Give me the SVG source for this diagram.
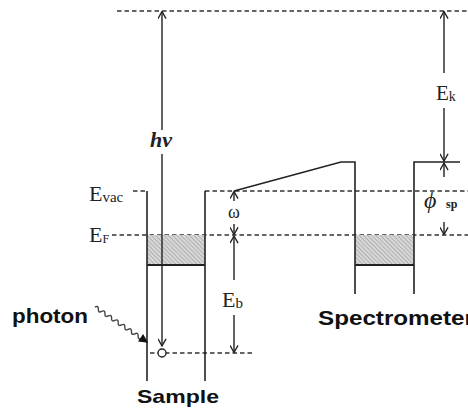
<svg xmlns="http://www.w3.org/2000/svg" width="468" height="410" viewBox="0 0 468 410">
<style>
.ln{stroke:#222;stroke-width:1.6;fill:none}
.ds{stroke:#333;stroke-width:1.3;fill:none;stroke-dasharray:4.5 3}
.ar{stroke:#222;stroke-width:1.4;fill:none;marker-end:url(#v)}
.sf{font-family:"Liberation Serif","Times New Roman",serif;fill:#222}
.ss{font-family:"Liberation Sans",Arial,sans-serif;font-weight:bold;fill:#111}
</style>
<defs>
<marker id="v" viewBox="0 0 10 10" refX="9" refY="5" markerWidth="9" markerHeight="9" markerUnits="userSpaceOnUse" orient="auto">
<path d="M1,0.5 L9,5 L1,9.5" fill="none" stroke="#222" stroke-width="1.5"/>
</marker>
<pattern id="hatch" width="3" height="3" patternUnits="userSpaceOnUse" patternTransform="rotate(-45)">
<rect width="3" height="3" fill="#d8d8d8"/>
<line x1="0" y1="0" x2="0" y2="3" stroke="#888" stroke-width="1"/>
</pattern>
</defs>
<rect width="468" height="410" fill="#fff"/>

<g id="levels">
<line class="ds" x1="117" y1="11" x2="468" y2="11"/>
<path class="ds" d="M133,191 H147"/>
<line class="ds" x1="205" y1="191" x2="468" y2="191"/>
<line class="ds" x1="112" y1="235" x2="468" y2="235"/>
<line class="ds" x1="150" y1="353" x2="254" y2="353"/>
</g>

<g id="sample">
<rect x="147" y="235" width="58" height="30" fill="url(#hatch)"/>
<line class="ln" x1="147" y1="191" x2="147" y2="381"/>
<line class="ln" x1="205" y1="191" x2="205" y2="381"/>
<line x1="147" y1="265" x2="205" y2="265" stroke="#222" stroke-width="2"/>
<circle cx="162" cy="353" r="4" fill="#fff" stroke="#222" stroke-width="1.4"/>
<text class="ss" x="178" y="403" font-size="19" text-anchor="middle" textLength="82" lengthAdjust="spacingAndGlyphs">Sample</text>
</g>

<g id="spectrometer">
<rect x="355" y="235" width="59" height="30" fill="url(#hatch)"/>
<path class="ln" d="M234,191 L341,162 H355 V294"/>
<path class="ln" d="M414,294 V162 H460"/>
<line x1="355" y1="265" x2="414" y2="265" stroke="#222" stroke-width="2"/>
<text class="ss" x="318" y="325" font-size="20" textLength="156" lengthAdjust="spacingAndGlyphs">Spectrometer</text>
</g>

<g id="photon">
<g transform="translate(95,307) rotate(34)">
<path d="M0,0 q2,-3.5 4,0 t4,0 t4,0 t4,0 t4,0 t4,0 t4,0 t4,0 t4,0 t4,0 t4,0 t4,0 t4,0 t4,0 L58,0" fill="none" stroke="#444" stroke-width="1.4"/>
<polygon points="55,-4.5 64,0 55,4.5" fill="#111"/>
</g>
<text class="ss" x="12" y="323" font-size="20" textLength="76" lengthAdjust="spacingAndGlyphs">photon</text>
</g>

<g id="connectors">
<line class="ar" x1="162" y1="130" x2="162" y2="11.5"/>
<line class="ar" x1="162" y1="154" x2="162" y2="346"/>
<line class="ar" x1="234" y1="201" x2="234" y2="191.5"/>
<line class="ar" x1="234" y1="224" x2="234" y2="234.5"/>
<line class="ar" x1="234" y1="280" x2="234" y2="236"/>
<line class="ar" x1="234" y1="315" x2="234" y2="352.5"/>
<line class="ar" x1="444" y1="73" x2="444" y2="11.5"/>
<line class="ar" x1="444" y1="108" x2="444" y2="161"/>
<line class="ar" x1="444" y1="177" x2="444" y2="163"/>
<line class="ar" x1="444" y1="222" x2="444" y2="234.5"/>
</g>

<g id="labels">
<text class="sf" x="161" y="147" font-size="22" font-weight="bold" font-style="italic" text-anchor="middle">hν</text>
<text class="sf" x="89" y="201" font-size="22">E<tspan font-size="15" dy="1">vac</tspan></text>
<text class="sf" x="89" y="242" font-size="22">E<tspan font-size="12" dy="1">F</tspan></text>
<text class="sf" x="234" y="218" font-size="18" text-anchor="middle">ω</text>
<text class="sf" x="222" y="307" font-size="22">E<tspan font-size="15" dy="1">b</tspan></text>
<text class="sf" x="436" y="100" font-size="21">E<tspan font-size="14" dy="1">k</tspan></text>
<text class="sf" x="424" y="208" font-size="24" font-style="italic">ϕ</text>
<text class="sf" x="446" y="208" font-size="12" font-weight="bold">sp</text>
</g>
</svg>
